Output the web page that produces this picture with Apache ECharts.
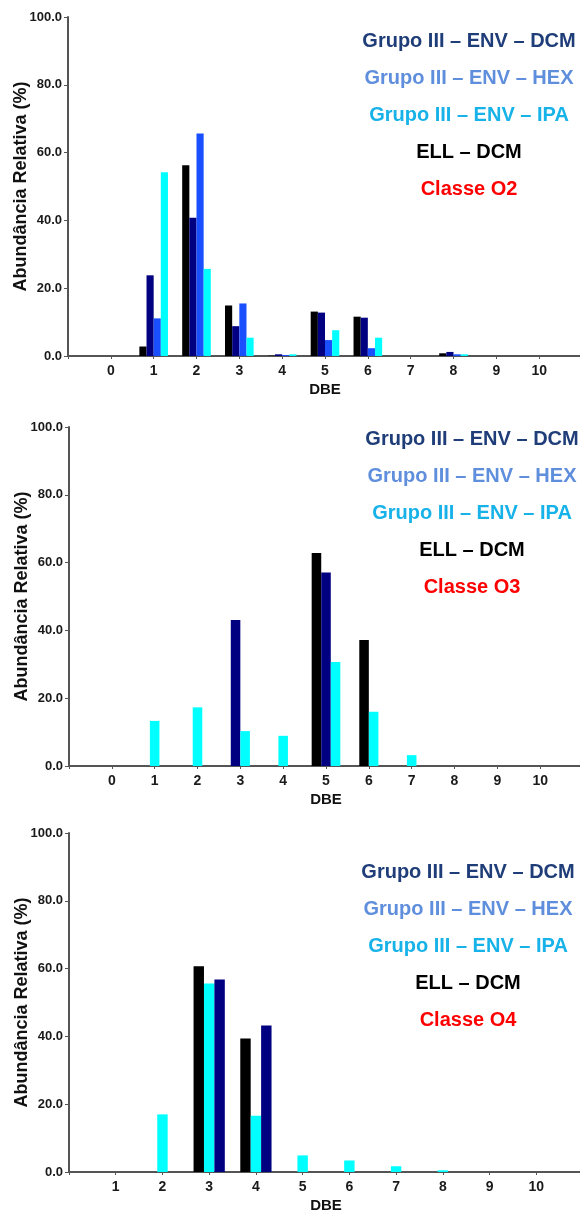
<!DOCTYPE html>
<html>
<head>
<meta charset="utf-8">
<script src="https://cdn.jsdelivr.net/npm/echarts@6/dist/echarts.min.js"></script>
<style>
    html, body { margin: 0; padding: 0; background: #fff; }
    #main { width: 580px; height: 1212px; }
</style>
</head>
<body>
<div id="main"></div>
<script>
    // DBE categories, a blank slot on each end as in the original plots
    var dbeO2 = ['', '0', '1', '2', '3', '4', '5', '6', '7', '8', '9', '10', ''];
    var dbeO3 = ['', '0', '1', '2', '3', '4', '5', '6', '7', '8', '9', '10', ''];
    var dbeO4 = ['', '1', '2', '3', '4', '5', '6', '7', '8', '9', '10', ''];

    // abundancia relativa (%), null = sem barra
    var o2Ell = [null, null, 2.8, 56.3, 14.9, 0.1, 13.1, 11.6, null, 0.8, null, null, null];
    var o2Dcm = [null, null, 23.8, 40.8, 8.8, 0.5, 12.8, 11.3, null, 1.2, null, null, null];
    var o2Hex = [null, null, 11.1, 65.6, 15.5, 0.3, 4.7, 2.3, null, 0.5, null, null, null];
    var o2Ipa = [null, null, 54.2, 25.7, 5.4, 0.5, 7.6, 5.4, null, 0.5, null, null, null];

    var o3Ell = [null, null, null, null, null, null, 62.8, 37.2, null, null, null, null, null];
    var o3Dcm = [null, null, null, null, 43.1, null, 57.1, null, null, null, null, null, null];
    var o3Ipa = [null, null, 13.3, 17.3, 10.3, 8.9, 30.7, 16.0, 3.2, null, null, null, null];

    var o4Ell = [null, null, null, 60.7, 39.4, null, null, null, null, null, null, null];
    var o4Ipa = [null, null, 17.0, 55.6, 16.6, 4.9, 3.4, 1.7, 0.5, null, null, null];
    var o4Dcm = [null, null, null, 56.8, 43.2, null, null, null, null, null, null, null];

    var yTicks = [0, 20, 40, 60, 80, 100];

    var legendLines = ['Grupo III \u2013 ENV \u2013 DCM', 'Grupo III \u2013 ENV \u2013 HEX',
        'Grupo III \u2013 ENV \u2013 IPA', 'ELL \u2013 DCM'];
    var legendColors = ['#1f3d78', '#5f8fdc', '#16b2e8', '#000000'];

    var C_ELL = '#000000', C_DCM = '#000080', C_HEX = '#1a4fff', C_IPA = '#00ffff';

    var plain = "'Liberation Sans', Arial, sans-serif";

    var panels = [
        { cats: dbeO2, classe: 'Classe O2', top: 17, left: 68, barWidth: '16.7%', legendX: 469, legendY: 41,
          order: [[o2Ell, C_ELL], [o2Dcm, C_DCM], [o2Hex, C_HEX], [o2Ipa, C_IPA]] },
        { cats: dbeO3, classe: 'Classe O3', top: 427, left: 69, barWidth: '22.3%', legendX: 472, legendY: 439,
          order: [[o3Ell, C_ELL], [o3Dcm, C_DCM], [o3Ipa, C_IPA]] },
        { cats: dbeO4, classe: 'Classe O4', top: 833, left: 69, barWidth: '22.3%', legendX: 468, legendY: 872,
          order: [[o4Ell, C_ELL], [o4Ipa, C_IPA], [o4Dcm, C_DCM]] }
    ];

    var grids = [], xAxes = [], yAxes = [], series = [], graphics = [];

    panels.forEach(function (p, pi) {
        grids.push({ left: p.left, top: p.top, width: 514, height: 339, outerBoundsMode: 'none', containLabel: false });

        yAxes.push({
            gridIndex: pi,
            type: 'value',
            min: yTicks[0],
            max: yTicks[yTicks.length - 1],
            interval: 20,
            name: 'Abundância Relativa (%)',
            nameLocation: 'middle',
            nameGap: 38,
            nameMoveOverlap: false,
            nameTextStyle: { fontFamily: plain, fontWeight: 'bold', fontSize: 18, color: '#111' },
            axisLine: { show: true, lineStyle: { color: '#555', width: 2 } },
            axisTick: { show: true, length: 4, lineStyle: { color: '#555', width: 1 } },
            axisLabel: {
                margin: 6,
                fontFamily: plain, fontWeight: 'bold', fontSize: 13, color: '#1a1a1a',
                formatter: function (v) { return v.toFixed(1); }
            },
            splitLine: { show: false }
        });

        // one x axis per cluster size, so categories with fewer bars are centred like the original
        var firstX = xAxes.length;
        for (var k = 1; k <= 4; k++) {
            var xa = {
                gridIndex: pi,
                type: 'category',
                data: p.cats,
                boundaryGap: false,
                show: k === 1
            };
            if (k === 1) {
                xa.name = 'DBE';
                xa.nameLocation = 'middle';
                xa.nameGap = 26;
                xa.nameMoveOverlap = false;
                xa.nameTextStyle = { fontFamily: plain, fontWeight: 'bold', fontSize: 15, color: '#111' };
                xa.axisLine = { show: true, lineStyle: { color: '#555', width: 2 } };
                xa.axisTick = { show: true, length: 3, interval: 0, lineStyle: { color: '#555' } };
                xa.axisLabel = { interval: 0, margin: 8, fontFamily: plain, fontWeight: 'bold', fontSize: 14, color: '#1a1a1a' };
                xa.splitLine = { show: false };
            }
            xAxes.push(xa);

            for (var j = 0; j < k; j++) {
                var hasData = false;
                var data = p.cats.map(function (c, ci) {
                    var present = p.order.filter(function (s) { return s[0][ci] != null; });
                    if (present.length !== k) return null;
                    hasData = true;
                    return { value: present[j][0][ci], itemStyle: { color: present[j][1] } };
                });
                if (!hasData) continue;
                series.push({
                    type: 'bar',
                    xAxisIndex: firstX + k - 1,
                    yAxisIndex: pi,
                    barWidth: p.barWidth,
                    barGap: '0%',
                    silent: true,
                    data: data
                });
            }
        }

        var lines = legendLines.concat([p.classe]);
        var colors = legendColors.concat(['#ff0000']);
        lines.forEach(function (t, li) {
            graphics.push({
                type: 'text',
                x: p.legendX,
                y: p.legendY + li * 37.2,
                style: {
                    text: t,
                    fill: colors[li],
                    font: 'bold 20px ' + plain,
                    align: 'center',
                    verticalAlign: 'middle'
                }
            });
        });
    });

    var chart = echarts.init(document.getElementById('main'));
    chart.setOption({
        animation: false,
        backgroundColor: '#fff',
        grid: grids,
        xAxis: xAxes,
        yAxis: yAxes,
        series: series,
        graphic: graphics
    });
</script>
</body>
</html>
